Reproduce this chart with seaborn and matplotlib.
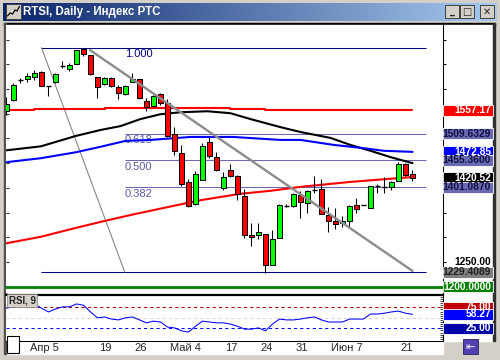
import numpy as np
import matplotlib
matplotlib.use("Agg")
import matplotlib.pyplot as plt
import matplotlib.transforms as mtransforms
from matplotlib.patches import Rectangle
from matplotlib.colors import LinearSegmentedColormap
import seaborn as sns

# daily candles, bar 0 = 31 Mar ... bar 58 = last bar
opens = [1555, 1578, 1618, 1620, 1624, 1634, 1606, 1614, 1647, 1640,
         1651, 1681, 1669, 1624, 1610, 1622, 1604, 1590, 1614, 1620,
         1576, 1566, 1590, 1572, 1509, 1470, 1412, 1367, 1416, 1493,
         1462, 1400, 1436, 1424, 1384, 1305, 1305, 1307, 1244, 1299,
         1363, 1363, 1386, 1369, 1396, 1398, 1345, 1333, 1329, 1333,
         1365, 1365, 1359, 1404, 1402, 1402, 1414, 1448, 1428]
highs = [1584, 1612, 1622, 1632, 1638, 1636, 1606, 1632, 1657, 1653,
         1679, 1683, 1669, 1624, 1624, 1624, 1608, 1608, 1632, 1620,
         1582, 1588, 1592, 1580, 1523, 1487, 1418, 1434, 1491, 1503,
         1473, 1432, 1448, 1426, 1398, 1329, 1329, 1307, 1315, 1367,
         1367, 1390, 1394, 1396, 1424, 1418, 1361, 1359, 1343, 1365,
         1379, 1365, 1404, 1408, 1422, 1414, 1452, 1450, 1436]
lows = [1547, 1576, 1612, 1614, 1618, 1606, 1586, 1612, 1642, 1636,
        1651, 1667, 1628, 1582, 1608, 1604, 1580, 1588, 1614, 1580,
        1555, 1564, 1568, 1503, 1466, 1404, 1361, 1365, 1416, 1460,
        1434, 1396, 1422, 1375, 1299, 1282, 1297, 1228, 1244, 1299,
        1361, 1361, 1339, 1349, 1390, 1347, 1311, 1317, 1321, 1321,
        1349, 1365, 1359, 1390, 1390, 1396, 1414, 1424, 1414]
closes = [1570, 1608, 1618, 1626, 1632, 1606, 1606, 1630, 1647, 1649,
          1679, 1671, 1630, 1604, 1622, 1606, 1592, 1606, 1620, 1582,
          1564, 1586, 1572, 1505, 1475, 1408, 1363, 1428, 1485, 1464,
          1436, 1422, 1424, 1388, 1305, 1301, 1311, 1244, 1297, 1365,
          1363, 1388, 1371, 1394, 1396, 1347, 1333, 1327, 1333, 1363,
          1357, 1365, 1404, 1404, 1402, 1412, 1448, 1426, 1420.52]

# moving averages, read at a few bars
ma_black_bar = [0, 4.9, 9.9, 13.4, 16.3, 19.1, 22, 24.9, 28.7, 32, 34.9, 39.1, 42, 46.3, 49.1, 52, 54.9, 58]
ma_black = [1476, 1484, 1505, 1517, 1525, 1539, 1549, 1553, 1555, 1551, 1539, 1523, 1513, 1501, 1487, 1475, 1462, 1450]
ma_blue_bar = [0, 4.9, 9.9, 13.4, 17, 20.6, 26.3, 32.4, 39.1, 42, 46.7, 50.6, 53.9, 58]
ma_blue = [1452, 1460, 1472, 1483, 1495, 1497, 1503, 1503, 1497, 1497, 1487, 1481, 1475, 1472.85]
ma_red_bar = [0, 4.9, 9.9, 13.4, 17.7, 23, 27.7, 33.4, 37.7, 42, 49.1, 56.3, 58]
ma_red = [1288, 1301, 1319, 1331, 1345, 1361, 1375, 1388, 1394, 1402, 1412, 1420, 1422]
ma_flat_bar = [0, 3.9, 14.1, 31.9, 36.9, 58]
ma_flat = [1558, 1559.5, 1561, 1560, 1557.17, 1557.17]

# fibonacci retracement
fib_ratios = ["1.000", "0.618", "0.500", "0.382"]
fib_levels = [1683.5, 1509.6329, 1455.36, 1401.087]
fib_low = 1229.4089
fib_bars = [5.0, 16.9]
fib_right = 59.9

# hand-drawn trend line
trend_bars = [11.9, 58]
trend_prices = [1679, 1232]

support = 1200.0

# price scale boxes
box_values = [1557.17, 1509.6329, 1472.85, 1455.36, 1420.52, 1401.087, 1229.4089, 1200.0]
box_texts = ["1557.17", "1509.6329", "1472.85", "1455.3600", "1420.52", "1401.0870", "1229.4089", "1200.0000"]
box_faces = ["#ff0000", "#6a6ab4", "#0000ff", "#6a6ab4", "#000000", "#6a6ab4", "#808080", "#008000"]
box_inks = ["white", "#101040", "white", "#101040", "white", "#101040", "#202020", "white"]

rsi = [73, 76, 78, 80, 83, 73, 64, 71, 76, 76,
       83, 80, 64, 50, 52, 47, 45, 50, 52, 45,
       38, 42, 40, 28, 26, 19, 16, 30, 42, 40,
       38, 38, 35, 30, 23, 23, 26, 19, 35, 47,
       45, 45, 47, 50, 52, 45, 40, 40, 40, 47,
       47, 47, 59, 59, 61, 64, 66, 61, 58.27]
rsi_box_values = [75, 58.27, 25]
rsi_box_texts = ["75.00", "58.27", "25.00"]
rsi_box_faces = ["#c00000", "#0000ff", "#0000a8"]

date_ticks = [3, 13, 18, 23, 31, 36, 41, 46, 56]
date_labels = ["Апр 5", "19", "26", "Май 4", "17", "24", "31", "Июн 7", "21"]

sns.set_style("white")
plt.rcParams['font.family'] = ['Liberation Sans', 'DejaVu Sans']

W, H = 500, 360
def px(x0, y0, x1, y1):
    return [x0 / W, 1 - y1 / H, (x1 - x0) / W, (y1 - y0) / H]

fig = plt.figure(figsize=(5, 3.6), dpi=100, facecolor='#d4d0c8')

# window chrome
bg = fig.add_axes([0, 0, 1, 1], zorder=0)
bg.set_xlim(0, W)
bg.set_ylim(H, 0)
bg.axis('off')
grad = LinearSegmentedColormap.from_list('title', ['#0a246a', '#a6caf0'])
bg.imshow(np.linspace(0, 1, 256)[None, :], cmap=grad, aspect='auto', extent=(3, 497, 21, 3))
bg.add_patch(Rectangle((4, 22.5), 491, 2, color='black'))
bg.add_patch(Rectangle((6, 24.5), 487, 316, color='white'))
bg.add_patch(Rectangle((6, 340.5), 437, 13, color='white'))
bg.add_patch(Rectangle((4, 22.5), 2, 331, color='#505050'))
bg.add_patch(Rectangle((493, 22.5), 2, 318, color='#303030'))
bg.text(23, 12, "RTSI, Daily - Индекс РТС", color='white', fontsize=8.3, fontweight='bold', va='center')
bg.add_patch(Rectangle((6, 4), 15, 15, facecolor='#d4d0c8', edgecolor='#404040', lw=0.7))
bg.plot([7.5, 10, 12.5, 15, 17, 19.5], [16, 13, 14, 10, 11, 6.5], color='black', lw=0.9)
for bx, glyph in zip([445, 460, 480], ['_', '□', '✕']):
    bg.add_patch(Rectangle((bx, 5), 14, 13, facecolor='#d4d0c8', edgecolor='#404040', lw=0.7))
    bg.text(bx + 7, 11.5, glyph, ha='center', va='center', fontsize=7, fontweight='bold',
            family=['DejaVu Sans'])

# main price panel
ax = fig.add_axes(px(6, 24.5, 443, 293), zorder=2)
ax.set_facecolor('white')
ax.set_xlim(-0.07, 62.36)
ax.set_ylim(1187.3, 1730.5)

x = np.arange(len(opens))
o, h, l, c = map(np.array, (opens, highs, lows, closes))
up = c > o + 1
down = c < o - 1
flat = ~(up | down)

# fibonacci levels
ax.hlines([fib_levels[0], fib_low], fib_bars[0], fib_right, color='#000080', lw=0.75, zorder=2)
ax.hlines(fib_levels[1:], fib_bars[1], fib_right, color='#6a6ab4', lw=0.75, zorder=2)
ax.hlines(support, -1, 70, color='#008000', lw=2, zorder=2)
sns.lineplot(x=fib_bars, y=[fib_levels[0], fib_low], ax=ax, color='#808080', lw=0.75,
             estimator=None, zorder=2)
for lab, lev in zip(fib_ratios, fib_levels):
    ax.annotate(lab, (fib_bars[1], lev), xytext=(0, -1), textcoords='offset points',
                color='#000080' if lab == "1.000" else '#5a5aa8', fontsize=8, va='top', ha='left')

# moving averages
sns.lineplot(x=ma_flat_bar, y=ma_flat, ax=ax, color='#ff0000', lw=1.5, estimator=None,
             drawstyle='steps-post', zorder=3)
sns.lineplot(x=ma_black_bar, y=ma_black, ax=ax, color='black', lw=1.5, estimator=None, zorder=3)
sns.lineplot(x=ma_blue_bar, y=ma_blue, ax=ax, color='#0000ff', lw=1.5, estimator=None, zorder=3)
sns.lineplot(x=ma_red_bar, y=ma_red, ax=ax, color='#ff0000', lw=1.5, estimator=None, zorder=3)

# candles
ax.vlines(x, l, h, color='black', lw=0.75, zorder=4)
ax.bar(x[up], (c - o)[up], bottom=o[up], width=0.6, color='#00ff00', edgecolor='black', lw=0.75, zorder=5)
ax.bar(x[down], (c - o)[down], bottom=o[down], width=0.6, color='#ff0000', edgecolor='black', lw=0.75, zorder=5)
ax.hlines(o[flat], x[flat] - 0.36, x[flat] + 0.36, color='black', lw=1, zorder=5)

sns.lineplot(x=trend_bars, y=trend_prices, ax=ax, color='#8c8c8c', lw=1.7, estimator=None, zorder=6)

for s in ['top', 'bottom', 'left']:
    ax.spines[s].set_visible(False)
ax.spines['right'].set_color('black')
ax.spines['right'].set_linewidth(0.75)
ax.set_xticks([])
ax.set_yticks(np.arange(1200, 1750, 50))
ax.yaxis.set_ticks_position('right')
ax.tick_params(axis='y', direction='out', length=2.5, width=0.75, color='black', labelright=False)
ax.set_xlabel('')
ax.set_ylabel('')
sec = ax.secondary_yaxis('left')
sec.set_yticks(np.arange(1200, 1750, 50))
sec.tick_params(direction='in', length=2, width=0.75, labelleft=False)
sec.spines['left'].set_visible(False)

# price scale boxes
bt = mtransforms.blended_transform_factory(ax.transAxes, ax.transData)
unit_h = 11 * (1730.5 - 1187.3) / 268.5
for v, t, fc, ink in zip(box_values, box_texts, box_faces, box_inks):
    ax.add_patch(Rectangle((1.0, v - unit_h / 2), 0.1144, unit_h, transform=bt, clip_on=False,
                           facecolor=fc, edgecolor='white', lw=0.6, zorder=7))
    ax.text(1.11, v, t, transform=bt, ha='right', va='center', color=ink, fontsize=7.4,
            fontweight='bold', clip_on=False, zorder=8)
ax.text(1.11, 1250, "1250.00", transform=bt, ha='right', va='center', color='black',
        fontsize=7.4, fontweight='bold', clip_on=False)

# RSI panel
ar = fig.add_axes(px(6, 294.5, 443, 340.5), zorder=2)
ar.set_facecolor('white')
ar.set_xlim(-0.07, 62.36)
ar.set_ylim(-4.05, 105.5)
ar.axhline(75, color='#b00000', lw=0.75, ls=(0, (3, 3)))
ar.axhline(50, color='#d8d8d8', lw=0.75, ls=(0, (3, 3)))
ar.axhline(25, color='#0000ff', lw=0.75, ls=(0, (3, 3)))
sns.lineplot(x=x, y=rsi, ax=ar, color='#0000ff', lw=0.75, estimator=None)
ar.spines['left'].set_visible(False)
ar.spines['top'].set_linewidth(1.6)
for s in ['bottom', 'right']:
    ar.spines[s].set_linewidth(0.75)
for s in ar.spines.values():
    s.set_color('black')
ar.set_xticks(date_ticks)
ar.set_xticklabels([])
ar.tick_params(axis='x', direction='out', length=9, width=0.75, color='black')
ar.set_yticks(np.arange(0, 101, 5))
ar.yaxis.set_ticks_position('right')
ar.tick_params(axis='y', direction='in', length=2, width=0.5, color='black', labelright=False)
ar.set_xlabel('')
ar.set_ylabel('')
for d, lab in zip(date_ticks, date_labels):
    ar.annotate(lab, (d, 0), xycoords=('data', 'axes fraction'), xytext=(1.5, -1.6),
                textcoords='offset points', fontsize=8, ha='left', va='top', annotation_clip=False)
ar.text(0.006, 0.98, "RSI, 9", transform=ar.transAxes, fontsize=7, fontweight='bold', va='top',
        ha='left', bbox=dict(boxstyle='square,pad=0.15', facecolor='#d4d0c8', edgecolor='#808080', lw=0.5))

rt = mtransforms.blended_transform_factory(ar.transAxes, ar.transData)
rsi_h = 11 * (105.5 + 4.05) / 46
for v, t, fc in zip(rsi_box_values, rsi_box_texts, rsi_box_faces):
    ar.add_patch(Rectangle((1.0, v - rsi_h / 2), 0.1144, rsi_h, transform=rt, clip_on=False,
                           facecolor=fc, edgecolor='white', lw=0.6, zorder=7))
    ar.text(1.11, v, t, transform=rt, ha='right', va='center', color='white', fontsize=7.4,
            fontweight='bold', clip_on=False, zorder=8)

# overlay bits on top
top = fig.add_axes([0, 0, 1, 1], zorder=10)
top.set_xlim(0, W)
top.set_ylim(H, 0)
top.axis('off')
top.add_patch(Rectangle((6.5, 335.5), 12.5, 17.5, facecolor='white', edgecolor='black', lw=0.8))
top.add_patch(Rectangle((463, 339), 15, 15, facecolor='#5040b0', edgecolor='#202060', lw=0.6))
top.text(470.5, 346.5, "⇤", color='white', ha='center', va='center', fontsize=8,
         family=['DejaVu Sans'])

fig.savefig('out.png', dpi=100, facecolor=fig.get_facecolor())
